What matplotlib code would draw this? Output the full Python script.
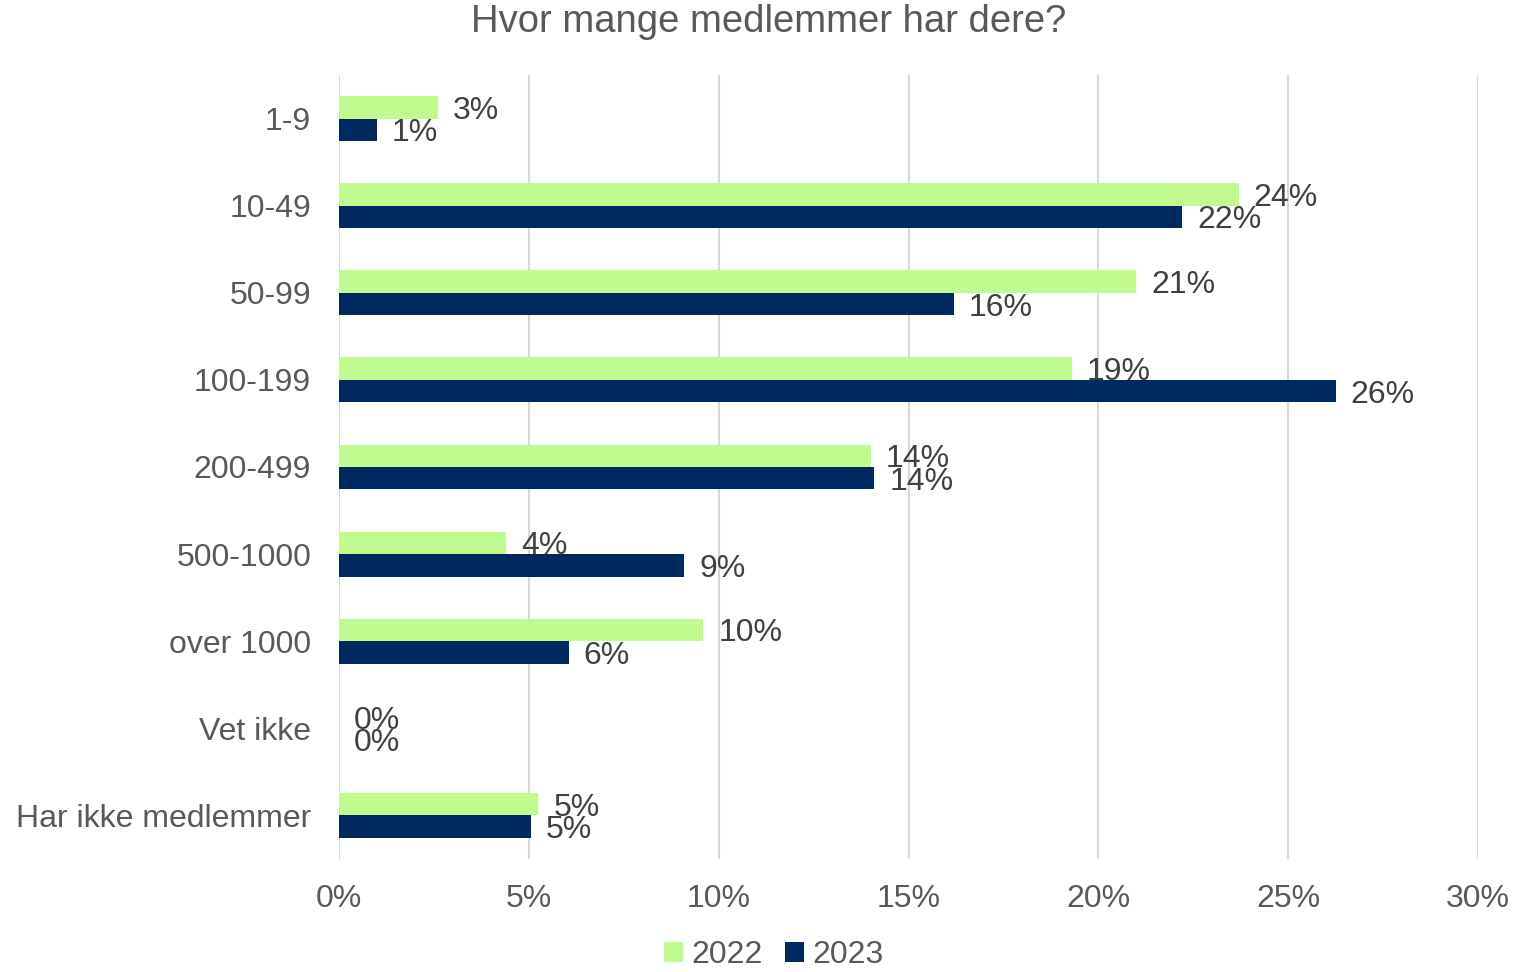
import matplotlib
matplotlib.use("Agg")
import matplotlib.pyplot as plt
import numpy as np

categories = ["1-9", "10-49", "50-99", "100-199", "200-499", "500-1000",
              "over 1000", "Vet ikke", "Har ikke medlemmer"]
values_2022 = [2.6, 23.7, 21.0, 19.3, 14.0, 4.4, 9.6, 0.0, 5.25]
values_2023 = [1.0, 22.2, 16.2, 26.25, 14.1, 9.1, 6.05, 0.0, 5.05]
series_names = ["2022", "2023"]
xticks = [0, 5, 10, 15, 20, 25, 30]

plt.rcParams['font.family'] = ['Liberation Sans', 'DejaVu Sans']

fig = plt.figure(figsize=(15.2, 9.72), dpi=100)
ax = fig.add_axes([0.223, 0.1163, 0.7494, 0.8065])

y = np.arange(len(categories))
h = 0.258
c22 = "#BFFB8F"
c23 = "#002960"
b1 = ax.barh(y - h / 2, values_2022, height=h, color=c22, label=series_names[0], zorder=3)
b2 = ax.barh(y + h / 2, values_2023, height=h, color=c23, label=series_names[1], zorder=3)

fs = 23
for bars, vals in ((b1, values_2022), (b2, values_2023)):
    for rect, v in zip(bars, vals):
        ax.annotate(f"{v:.0f}%", (rect.get_width(), rect.get_y() + rect.get_height() / 2),
                    xytext=(15, 0), textcoords="offset pixels",
                    va="center_baseline", ha="left", fontsize=fs, color="#404040", zorder=4)

ax.set_ylim(len(categories) - 0.5, -0.5)
ax.set_xlim(0, 30)
ax.set_xticks(xticks)
ax.set_xticklabels([f"{t}%" for t in xticks])
ax.set_yticks(y)
ax.set_yticklabels(categories)
ax.tick_params(axis="both", length=0, labelsize=fs, colors="#595959")
ax.tick_params(axis="y", pad=20)
ax.tick_params(axis="x", pad=18)
for s in ax.spines.values():
    s.set_visible(False)
ax.grid(axis="x", color="#D9D9D9", linewidth=1.5, zorder=0)

fig.text(0.506, 0.977, "Hvor mange medlemmer har dere?", ha="center", va="center",
         fontsize=27.5, color="#595959")

fig.legend(handles=[b1, b2], labels=series_names, loc="center", bbox_to_anchor=(0.509, 0.017),
           ncol=2, frameon=False, fontsize=fs, labelcolor="#595959", borderpad=0.1,
           handlelength=0.6, handleheight=0.6, handletextpad=0.25, columnspacing=0.7)

fig.savefig("out.png", dpi=100)
